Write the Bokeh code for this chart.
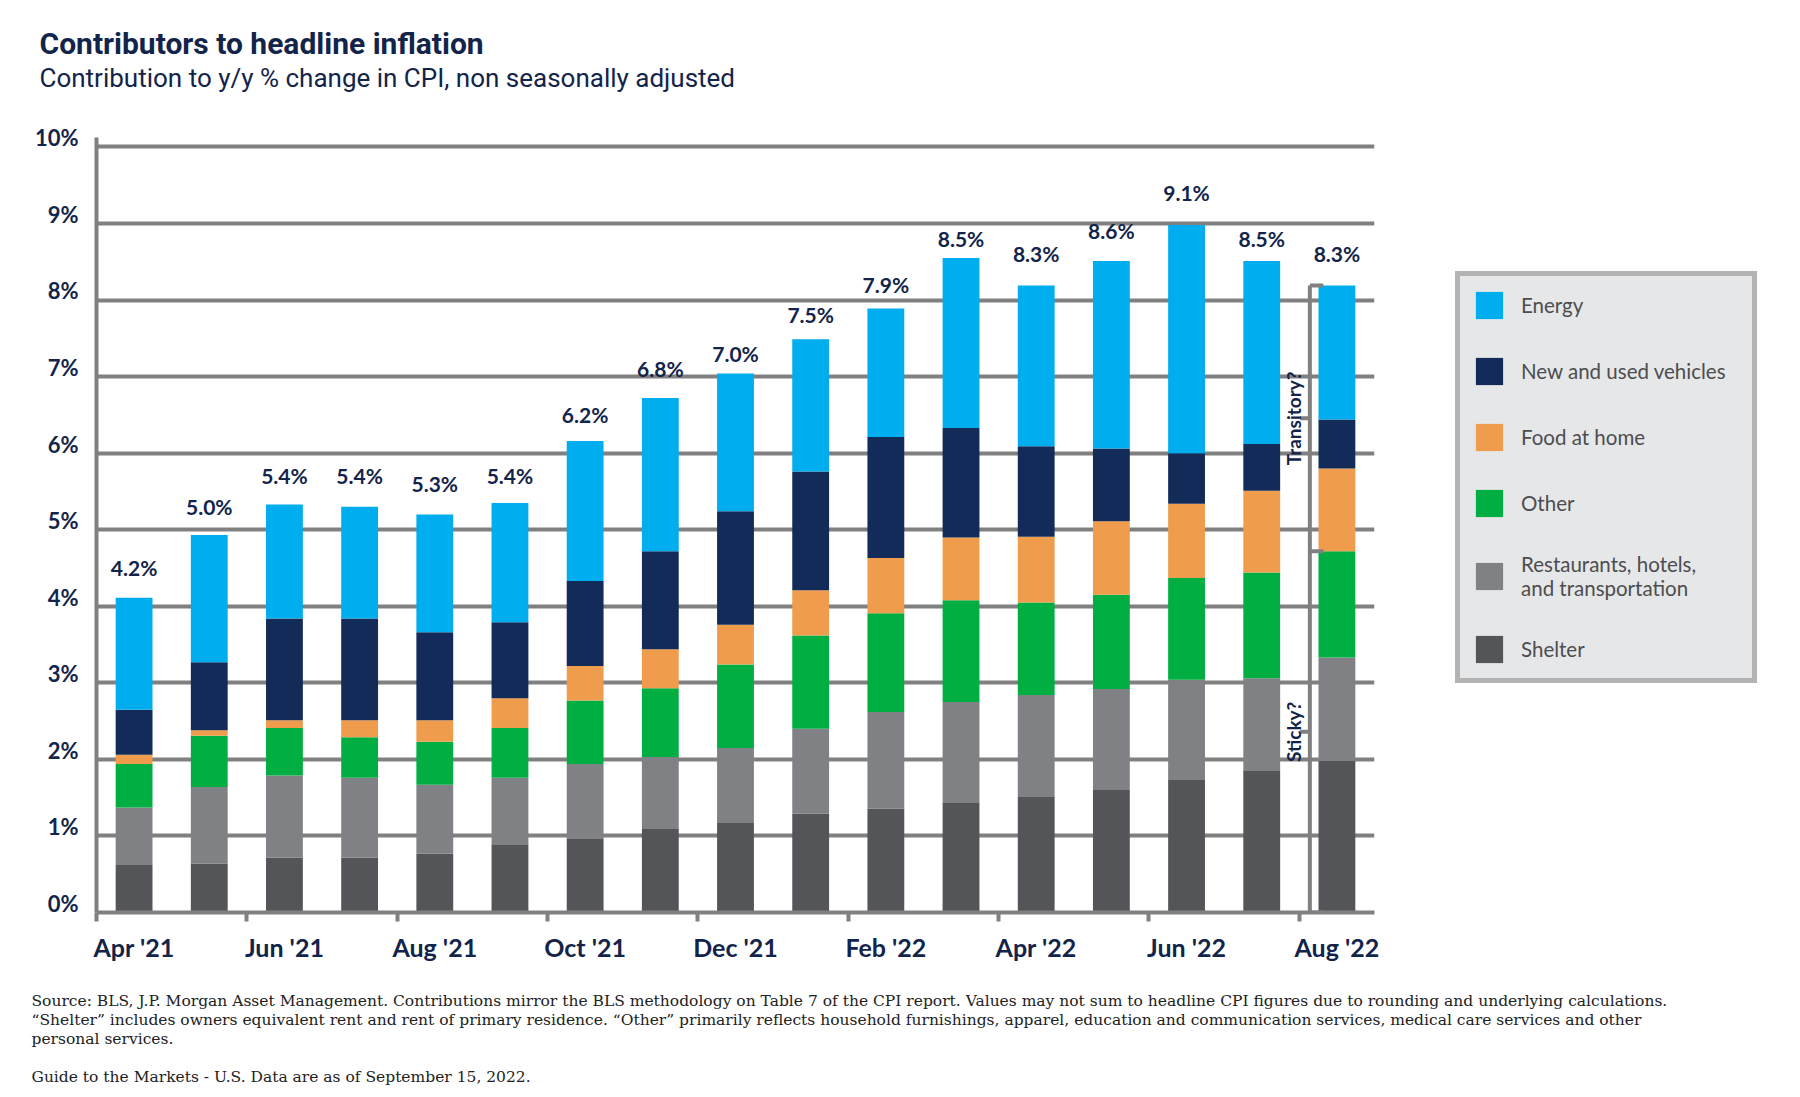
from bokeh.plotting import figure
from bokeh.models import (ColumnDataSource, FixedTicker, Range1d, Legend, LegendItem,
                          LabelSet, Label)
from bokeh.layouts import column, row
from bokeh.embed import file_html
from bokeh.resources import INLINE
from bokeh.core.properties import value

# ---------------- data ----------------
months = ["Apr '21", "May '21", "Jun '21", "Jul '21", "Aug '21", "Sep '21", "Oct '21",
          "Nov '21", "Dec '21", "Jan '22", "Feb '22", "Mar '22", "Apr '22", "May '22",
          "Jun '22", "Jul '22", "Aug '22"]
shelter = [0.62, 0.64, 0.72, 0.72, 0.77, 0.89, 0.97, 1.09, 1.17, 1.29, 1.36, 1.44, 1.51, 1.60, 1.73, 1.85, 1.98]
restaurants = [0.75, 1.00, 1.07, 1.04, 0.90, 0.87, 0.97, 0.94, 0.98, 1.11, 1.26, 1.31, 1.33, 1.32, 1.31, 1.21, 1.35]
other = [0.57, 0.67, 0.62, 0.53, 0.56, 0.65, 0.83, 0.90, 1.09, 1.22, 1.29, 1.33, 1.21, 1.23, 1.33, 1.38, 1.39]
food = [0.12, 0.07, 0.10, 0.22, 0.28, 0.39, 0.45, 0.51, 0.52, 0.59, 0.72, 0.82, 0.86, 0.96, 0.97, 1.07, 1.08]
vehicles = [0.59, 0.89, 1.33, 1.33, 1.15, 0.99, 1.11, 1.28, 1.48, 1.55, 1.58, 1.43, 1.18, 0.95, 0.66, 0.61, 0.64]
energy = [1.46, 1.66, 1.49, 1.46, 1.54, 1.56, 1.83, 2.00, 1.80, 1.73, 1.68, 2.22, 2.10, 2.45, 2.98, 2.39, 1.75]
headline = [4.2, 5.0, 5.4, 5.4, 5.3, 5.4, 6.2, 6.8, 7.0, 7.5, 7.9, 8.5, 8.3, 8.6, 9.1, 8.5, 8.3]

series_keys = ["shelter", "restaurants", "other", "food", "vehicles", "energy"]
series_names = ["Shelter", "Restaurants, hotels,\nand transportation", "Other",
                "Food at home", "New and used vehicles", "Energy"]
series_colors = ["#545558", "#808184", "#00ae42", "#ef9c4c", "#132b58", "#00adee"]

x_tick_labels = ["Apr '21", "Jun '21", "Aug '21", "Oct '21", "Dec '21", "Feb '22",
                 "Apr '22", "Jun '22", "Aug '22"]
y_tick_values = list(range(0, 11))

title_text = "Contributors to headline inflation"
subtitle_text = "Contribution to y/y % change in CPI, non seasonally adjusted"
notes = [
    "Source: BLS, J.P. Morgan Asset Management. Contributions mirror the BLS methodology on Table 7 of the CPI report. Values may not sum to headline CPI figures due to rounding and underlying calculations.",
    "\u201cShelter\u201d includes owners equivalent rent and rent of primary residence. \u201cOther\u201d primarily reflects household furnishings, apparel, education and communication services, medical care services and other",
    "personal services.",
    "Guide to the Markets - U.S. Data are as of September 15, 2022.",
]

NAVY = "#13244b"
GRID = "#808080"
W, H = 1800, 1097


def blank_fig(w, h):
    f = figure(width=w, height=h, toolbar_location=None, output_backend="svg",
               x_range=Range1d(0, w), y_range=Range1d(0, h),
               x_axis_location=None, y_axis_location=None, min_border=0)
    f.outline_line_color = None
    f.grid.visible = False
    return f


# ---------------- title block ----------------
TOP_H = 108
p_top = blank_fig(W, TOP_H)
p_top.add_layout(Label(x=39, y=65, x_units="screen", y_units="screen", text=title_text,
                       text_baseline="middle", text_font="Roboto", text_font_style="bold",
                       text_font_size="30px", text_color=NAVY))
p_top.add_layout(Label(x=39, y=31, x_units="screen", y_units="screen", text=subtitle_text,
                       text_baseline="middle", text_font="Roboto",
                       text_font_size="26px", text_color=NAVY))

# ---------------- main chart ----------------
xs = list(range(len(months)))
src = ColumnDataSource(dict(x=xs, months=months, shelter=shelter, restaurants=restaurants,
                            other=other, food=food, vehicles=vehicles, energy=energy,
                            headline=headline,
                            label=["%.1f%%" % h for h in headline]))

BORDER_L, FRAME_W, BORDER_R = 96, 1278, 10
BORDER_T, FRAME_H, BORDER_B = 27, 777, 75
MAIN_H = BORDER_T + FRAME_H + BORDER_B
p = figure(title=None, toolbar_location=None, output_backend="svg",
           frame_width=FRAME_W, frame_height=FRAME_H,
           min_border_left=BORDER_L, min_border_right=BORDER_R,
           min_border_top=BORDER_T, min_border_bottom=BORDER_B,
           x_range=Range1d(-0.5, len(months) - 0.5), y_range=Range1d(0, 10.15))
p.outline_line_color = None

renderers = p.vbar_stack(series_keys, x="x", width=0.49, color=series_colors,
                         line_color=None, source=src)

labels = LabelSet(x="x", y="headline", text="label", source=src, y_offset=11,
                  text_align="center", text_baseline="bottom",
                  text_font=value("Lato"), text_font_style="bold", text_font_size="21px",
                  text_color=NAVY)
p.add_layout(labels)

p.xgrid.visible = False
p.ygrid.ticker = FixedTicker(ticks=y_tick_values)
p.ygrid.grid_line_color = GRID
p.ygrid.grid_line_width = 4

ylab_pos = [v + 0.12 for v in y_tick_values]
p.yaxis.ticker = FixedTicker(ticks=ylab_pos)
p.yaxis.major_label_overrides = {pos: "%d%%" % v for pos, v in zip(ylab_pos, y_tick_values)}
p.yaxis.bounds = (0, 10.13)
p.yaxis.axis_line_color = GRID
p.yaxis.axis_line_width = 4
p.yaxis.major_tick_line_color = None
p.yaxis.minor_tick_line_color = None
p.yaxis.major_tick_out = 0
p.yaxis.major_label_standoff = 18
p.yaxis.major_label_text_font = "Lato"
p.yaxis.major_label_text_font_style = "bold"
p.yaxis.major_label_text_font_size = "22px"
p.yaxis.major_label_text_color = NAVY

label_pos = [i for i in xs if i % 2 == 0]
p.xaxis.ticker = FixedTicker(ticks=label_pos, minor_ticks=[i - 0.5 for i in label_pos])
p.xaxis.major_label_overrides = {pos: t for pos, t in zip(label_pos, x_tick_labels)}
p.xaxis.axis_line_color = GRID
p.xaxis.axis_line_width = 4
p.xaxis.major_tick_line_color = None
p.xaxis.major_tick_out = 0
p.xaxis.major_tick_in = 0
p.xaxis.minor_tick_line_color = GRID
p.xaxis.minor_tick_line_width = 4
p.xaxis.minor_tick_out = 9
p.xaxis.minor_tick_in = 0
p.xaxis.major_label_standoff = 10
p.xaxis.major_label_text_font = "Lato"
p.xaxis.major_label_text_font_style = "bold"
p.xaxis.major_label_text_font_size = "25px"
p.xaxis.major_label_text_color = NAVY

# bracket: sticky vs transitory for last month
last = len(months) - 1
top = shelter[last] + restaurants[last] + other[last] + food[last] + vehicles[last] + energy[last]
mid = shelter[last] + restaurants[last] + other[last]
xb, xr, xl = last - 0.36, last - 0.18, last - 0.49
p.multi_line(xs=[[xb, xb], [xb, xr], [xb, xr], [xb, xr], [xl, xb], [xl, xb]],
             ys=[[0, top], [top, top], [mid, mid], [0, 0], [(mid + top) / 2] * 2, [mid / 2] * 2],
             line_color=GRID, line_width=4)
for txt, yy in [("Transitory?", (mid + top) / 2), ("Sticky?", mid / 2)]:
    p.add_layout(Label(x=last - 0.58, y=yy, text=txt, angle=90, angle_units="deg",
                       text_align="center", text_baseline="middle",
                       text_font="Lato", text_font_style="bold", text_font_size="19px",
                       text_color=NAVY))

# ---------------- legend block ----------------
LEG_W = W - (BORDER_L + FRAME_W + BORDER_R)
p_leg = blank_fig(LEG_W, MAIN_H)
dummy_src = ColumnDataSource(dict(x=[-1000], top=[0]))
dummies = [p_leg.vbar(x="x", top="top", width=1, color=c, line_color=None, source=dummy_src)
           for c in series_colors]
order = [5, 4, 3, 2, 1, 0]
legend = Legend(items=[LegendItem(label=series_names[i], renderers=[dummies[i]]) for i in order],
                location=(71, 229), orientation="vertical",
                padding=12, spacing=32, glyph_width=34, glyph_height=34,
                label_height=27, label_width=219, label_standoff=15,
                label_text_font="Lato", label_text_font_size="20.5px",
                label_text_color="#4d4d4f",
                background_fill_color="#e6e7e8", background_fill_alpha=1.0,
                border_line_color=GRID, border_line_width=5)
p_leg.add_layout(legend, "center")

# ---------------- notes block ----------------
NOTES_H = H - TOP_H - MAIN_H
p_notes = blank_fig(W, NOTES_H)
for txt, yy in zip(notes, [97, 78, 59, 21]):
    p_notes.add_layout(Label(x=31, y=yy, x_units="screen", y_units="screen", text=txt,
                             text_baseline="middle", text_font="DejaVu Serif",
                             text_font_size="15.5px", text_color="#222222"))

layout = column(p_top, row(p, p_leg), p_notes)
open("out.html", "w").write(file_html(layout, INLINE))
